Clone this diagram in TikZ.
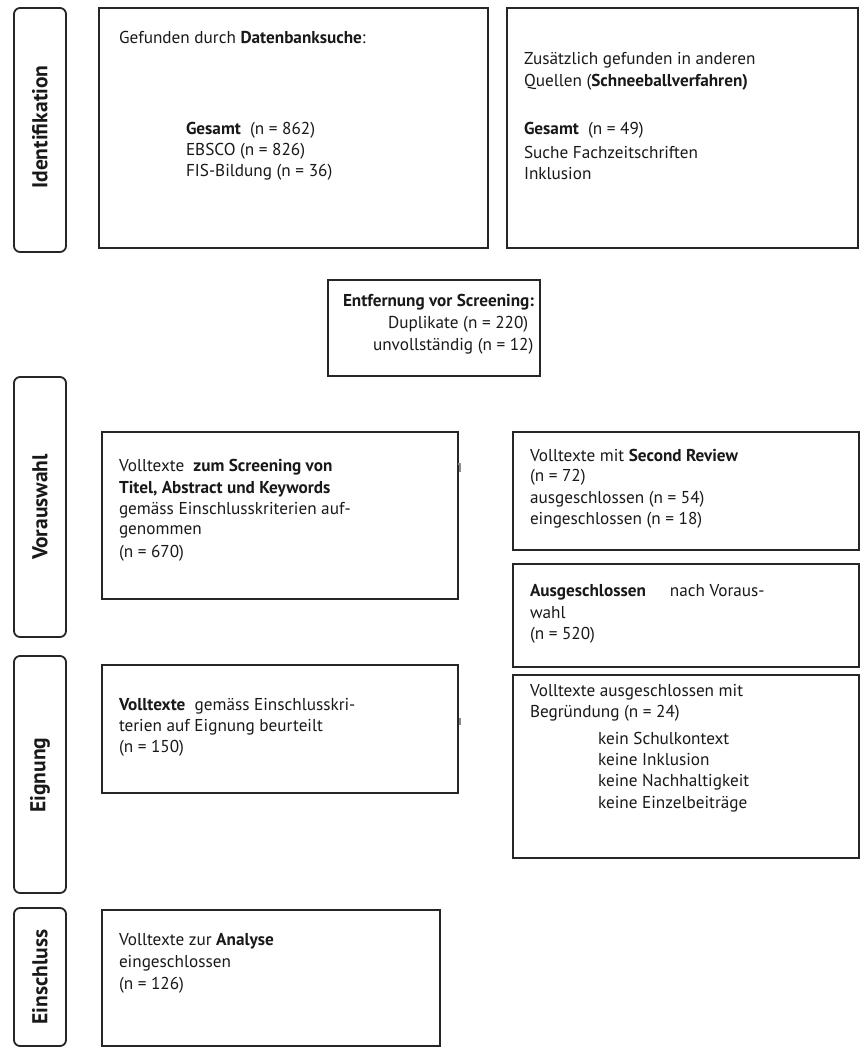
\documentclass[tikz,border=0pt]{standalone}
\usepackage{fontspec}
\setmainfont{PT Sans}
\begin{document}
\begin{tikzpicture}[x=1pt,y=-1pt,
  every node/.style={inner sep=0pt, outer sep=0pt},
  frame/.style={draw=black!85, line width=2pt, fill=white},
  phase/.style={draw=black!85, line width=1.8pt, rounded corners=6pt, fill=white},
  phasetxt/.style={rotate=90, font=\fontsize{21.5}{25}\selectfont\bfseries, text=black!90},
  txt/.style={anchor=west, font=\fontsize{17.2}{21}\selectfont, text=black!90},
  stub/.style={draw=black!45, line width=2.5pt}]
\useasboundingbox (0,0) rectangle (860,1050);

% phase labels on the left
\draw[phase] (14,8) rectangle (66,252);
\node[phasetxt] (p1) at (40,127) {Identifikation};
\draw[phase] (14,377) rectangle (66,637);
\node[phasetxt] (p2) at (40,507) {Vorauswahl};
\draw[phase] (14,656) rectangle (66,893);
\node[phasetxt] (p3) at (40,775) {Eignung};
\draw[phase] (14,908) rectangle (66,1046);
\node[phasetxt] (p4) at (40,977) {Einschluss};

% identification
\draw[frame] (99,8) rectangle (488,248);
\node[txt] (b1a) at (119,37) {Gefunden durch \textbf{Datenbanksuche}:};
\node[txt] (b1b) at (186,130) {\textbf{Gesamt}\ \ (n = 862)};
\node[txt] (b1c) at (186,151) {EBSCO (n = 826)};
\node[txt] (b1d) at (186,172) {FIS-Bildung (n = 36)};

\draw[frame] (507,8) rectangle (858,248);
\node[txt] (b2a) at (524,60) {Zusätzlich gefunden in anderen};
\node[txt] (b2b) at (524,82) {Quellen (\textbf{Schneeballverfahren)}};
\node[txt] (b2c) at (524,130) {\textbf{Gesamt}\ \ (n = 49)};
\node[txt] (b2d) at (524,152) {Suche Fachzeitschriften};
\node[txt] (b2e) at (524,174) {Inklusion};

% removal before screening
\draw[frame] (328,280) rectangle (540,376);
\node[txt] (ea) at (343,302) {\textbf{Entfernung vor Screening:}};
\node[txt] (eb) at (388,324) {Duplikate (n = 220)};
\node[txt] (ec) at (373,346) {unvollständig (n = 12)};

% pre-selection
\draw[frame] (102,432) rectangle (458,599);
\draw[stub] (458,464) -- (460,464) -- (460,472);
\node[txt] (va) at (119,467) {Volltexte\ \ \textbf{zum Screening von}};
\node[txt] (vb) at (119,489) {\textbf{Titel, Abstract und Keywords}};
\node[txt] (vc) at (119,510) {gemäss Einschlusskriterien auf-};
\node[txt] (vd) at (119,532) {genommen};
\node[txt] (ve) at (119,553) {(n = 670)};

\draw[frame] (513,432) rectangle (859,550);
\node[txt] (sa) at (530,455) {Volltexte mit \textbf{Second Review}};
\node[txt] (sb) at (530,477) {(n = 72)};
\node[txt] (sc) at (530,499) {ausgeschlossen (n = 54)};
\node[txt] (sd) at (530,520) {eingeschlossen (n = 18)};

\draw[frame] (513,564) rectangle (859,667);
\node[txt] (aa) at (530,592) {\textbf{Ausgeschlossen}\hspace{24pt}nach Voraus-};
\node[txt] (ac) at (530,613) {wahl};
\node[txt] (ad) at (530,635) {(n = 520)};

% eligibility
\draw[frame] (102,665) rectangle (458,793);
\draw[stub] (460,718) -- (460,725);
\node[txt] (ga) at (119,706) {\textbf{Volltexte}\ \ gemäss Einschlusskri-};
\node[txt] (gb) at (119,727) {terien auf Eignung beurteilt};
\node[txt] (gc) at (119,748) {(n = 150)};

\draw[frame] (513,675) rectangle (859,858);
\node[txt] (xa) at (530,692) {Volltexte ausgeschlossen mit};
\node[txt] (xb) at (530,713) {Begründung (n = 24)};
\node[txt] (xc) at (598,738) {kein Schulkontext};
\node[txt] (xd) at (598,760) {keine Inklusion};
\node[txt] (xe) at (598,782) {keine Nachhaltigkeit};
\node[txt] (xf) at (598,804) {keine Einzelbeiträge};

% inclusion
\draw[frame] (102,910) rectangle (440,1046);
\node[txt] (ia) at (119,941) {Volltexte zur \textbf{Analyse}};
\node[txt] (ib) at (119,963) {eingeschlossen};
\node[txt] (ic) at (119,985) {(n = 126)};
\end{tikzpicture}
\end{document}
